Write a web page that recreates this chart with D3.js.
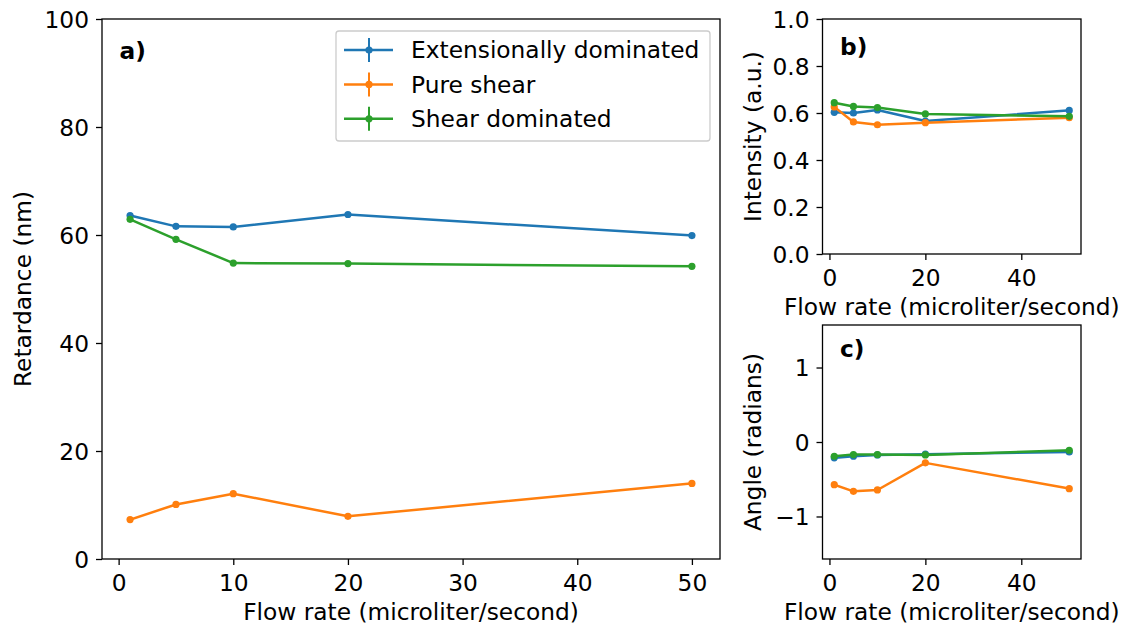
<!DOCTYPE html>
<html>
<head>
<meta charset="utf-8">
<script src="https://cdn.jsdelivr.net/npm/d3@7"></script>
<style>
  html, body { margin: 0; padding: 0; background: #fff; }
  svg { display: block; }
  text { font-family: "DejaVu Sans", sans-serif; fill: #000; }
</style>
</head>
<body>
<svg id="chart" width="1126" height="628"></svg>
<script>
// Flow rates (microliter/second)
const flowRates = [1, 5, 10, 20, 50];

const seriesNames = ["Extensionally dominated", "Pure shear", "Shear dominated"];
const seriesColors = ["#1f77b4", "#ff7f0e", "#2ca02c"];

// a) Retardance (nm)
const retardExt   = [63.6, 61.6, 61.5, 63.8, 59.9];
const retardPure  = [7.3, 10.1, 12.1, 7.9, 14.0];
const retardShear = [62.9, 59.2, 54.8, 54.7, 54.2];

// b) Intensity (a.u.)
const intensityExt   = [0.603, 0.600, 0.613, 0.566, 0.611];
const intensityPure  = [0.626, 0.562, 0.550, 0.559, 0.580];
const intensityShear = [0.644, 0.628, 0.623, 0.596, 0.586];

// c) Angle (radians)
const angleExt   = [-0.213, -0.190, -0.173, -0.164, -0.133];
const anglePure  = [-0.573, -0.662, -0.644, -0.280, -0.626];
const angleShear = [-0.191, -0.169, -0.169, -0.173, -0.111];

// Tick values
const ticksAX = [0, 10, 20, 30, 40, 50];
const ticksAY = [0, 20, 40, 60, 80, 100];
const ticksBX = [0, 20, 40];
const ticksBY = [0, 0.2, 0.4, 0.6, 0.8, 1.0];
const ticksCY = [-1, 0, 1];

const FONT = 23.3;
const TICK = 6;
const svg = d3.select("#chart");

// 5% padding on the x extent
const xDom = (() => {
  const [a, b] = d3.extent(flowRates);
  const m = (b - a) * 0.05;
  return [a - m, b + m];
})();

function panel(opts) {
  const { left, right, top, bottom, yDomain, xTicks, yTicks, yFmt, series,
          label, labelY, yLabel, yLabelX, xLabelY } = opts;
  const x = d3.scaleLinear().domain(xDom).range([left, right]);
  const y = d3.scaleLinear().domain(yDomain).range([bottom, top]);
  const g = svg.append("g");

  const line = d3.line().x((d, i) => x(flowRates[i])).y(d => y(d));
  const clipId = "clip" + label.replace(/\W/g, "");
  svg.append("clipPath").attr("id", clipId)
    .append("rect").attr("x", left).attr("y", top).attr("width", right - left).attr("height", bottom - top);

  const plot = g.append("g").attr("clip-path", `url(#${clipId})`);
  series.forEach((vals, k) => {
    plot.append("path").datum(vals)
      .attr("d", line).attr("fill", "none")
      .attr("stroke", seriesColors[k]).attr("stroke-width", 2.5)
      .attr("stroke-linejoin", "round").attr("stroke-linecap", "square");
    plot.selectAll(null).data(vals).enter().append("circle")
      .attr("cx", (d, i) => x(flowRates[i])).attr("cy", d => y(d))
      .attr("r", 3.6).attr("fill", seriesColors[k]);
  });

  const xAxis = d3.axisBottom(x).tickValues(xTicks).tickSize(TICK).tickPadding(9.2).tickFormat(d3.format("d"));
  const yAxis = d3.axisLeft(y).tickValues(yTicks).tickSize(TICK).tickPadding(7).tickFormat(yFmt);
  const gx = g.append("g").attr("transform", `translate(0,${bottom})`).call(xAxis);
  const gy = g.append("g").attr("transform", `translate(${left},0)`).call(yAxis);
  [gx, gy].forEach(a => {
    a.select(".domain").remove();
    a.selectAll(".tick line").attr("stroke", "#000").attr("stroke-width", 1.3);
    a.selectAll(".tick text").attr("font-size", FONT).attr("font-family", "DejaVu Sans").attr("fill", "#000");
  });
  gy.selectAll(".tick text").attr("dy", "0.36em");

  g.append("rect").attr("x", left).attr("y", top).attr("width", right - left).attr("height", bottom - top)
    .attr("fill", "none").attr("stroke", "#000").attr("stroke-width", 1.3);

  g.append("text").attr("x", left + 17.5).attr("y", labelY)
    .attr("font-size", FONT).attr("font-weight", "bold").text(label);

  g.append("text").attr("x", (left + right) / 2).attr("y", xLabelY)
    .attr("text-anchor", "middle").attr("font-size", FONT).text("Flow rate (microliter/second)");

  const cy = (top + bottom) / 2;
  g.append("text").attr("transform", `translate(${yLabelX},${cy}) rotate(-90)`)
    .attr("text-anchor", "middle").attr("font-size", FONT).text(yLabel);
  return { x, y };
}

const minusFmt = d => (d < 0 ? "\u2212" + Math.abs(d) : String(d));

panel({
  left: 102, right: 720, top: 19, bottom: 559,
  yDomain: [0, 100], xTicks: ticksAX, yTicks: ticksAY, yFmt: d3.format("d"),
  series: [retardExt, retardPure, retardShear],
  label: "a)", labelY: 59, yLabel: "Retardance (nm)", yLabelX: 31, xLabelY: 620
});

panel({
  left: 822.5, right: 1081, top: 19, bottom: 254,
  yDomain: [0, 1], xTicks: ticksBX, yTicks: ticksBY, yFmt: d3.format(".1f"),
  series: [intensityExt, intensityPure, intensityShear],
  label: "b)", labelY: 55, yLabel: "Intensity (a.u.)", yLabelX: 761, xLabelY: 315
});

panel({
  left: 822.5, right: 1081, top: 325, bottom: 559,
  yDomain: [-Math.PI / 2, Math.PI / 2], xTicks: ticksBX, yTicks: ticksCY, yFmt: minusFmt,
  series: [angleExt, anglePure, angleShear],
  label: "c)", labelY: 357, yLabel: "Angle (radians)", yLabelX: 761, xLabelY: 620
});

// Legend for panel a, with errorbar-style handles
const legend = svg.append("g");
legend.append("rect").attr("x", 336).attr("y", 31).attr("width", 374).attr("height", 110)
  .attr("rx", 3).attr("fill", "#fff").attr("fill-opacity", 0.8)
  .attr("stroke", "#ccc").attr("stroke-width", 1.3);
seriesNames.forEach((name, k) => {
  const yy = 50 + k * 34.4;
  const c = seriesColors[k];
  legend.append("line").attr("x1", 344).attr("x2", 393).attr("y1", yy).attr("y2", yy)
    .attr("stroke", c).attr("stroke-width", 2.5);
  legend.append("line").attr("x1", 369).attr("x2", 369).attr("y1", yy - 12).attr("y2", yy + 12)
    .attr("stroke", c).attr("stroke-width", 2);
  legend.append("circle").attr("cx", 369).attr("cy", yy).attr("r", 3.6).attr("fill", c);
  legend.append("text").attr("x", 411).attr("y", yy + 8.3).attr("font-size", FONT).text(name);
});
</script>
</body>
</html>
